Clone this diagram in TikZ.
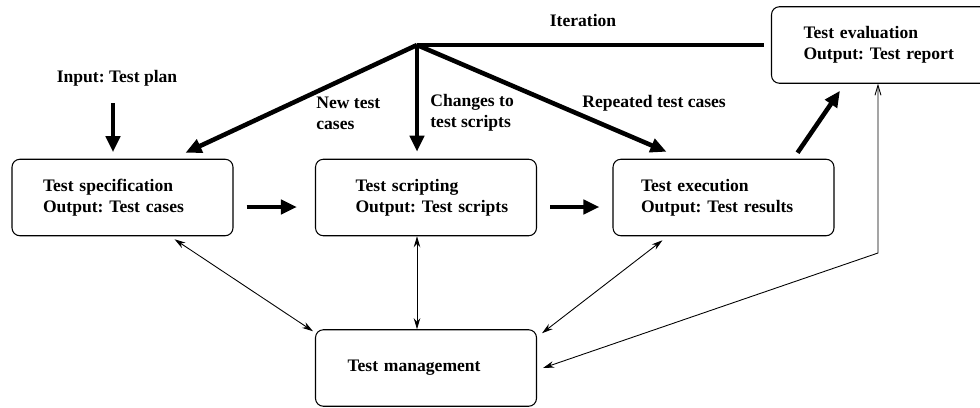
\documentclass[tikz,border=0pt]{standalone}
\usepackage{fontspec}
\setmainfont{Liberation Serif}
\usepackage{tikz}
\usetikzlibrary{arrows.meta, positioning, calc}
\frenchspacing
\tikzset{
  stagebox/.style={
    draw, rounded corners=4.5pt, line width=0.6pt, align=left,
    font=\bfseries, fill=white, text width=3.3cm, inner xsep=0.56cm,
    minimum height=1.53cm
  },
  flowlabel/.style={
    font=\bfseries, align=left, inner sep=0pt
  },
  bigarrow/.style={
    -{Triangle[length=3.2mm,width=2.8mm]}, line width=2.6pt
  },
  bigline/.style={
    line width=2.6pt
  },
  mgmtarrow/.style={
    {Stealth[length=2.2mm,width=1.3mm]}-{Stealth[length=2.2mm,width=1.3mm]},
    line width=0.5pt
  },
}

\begin{document}
\begin{tikzpicture}
  \useasboundingbox[fill=white] (0,0) rectangle (19.6,-8.14);

  % Stages
  \node[stagebox] (spec) at (2.45,-3.95)
    {\hspace*{0.06cm}Test specification\\\hspace*{0.06cm}Output: Test cases};
  \node[stagebox] (script) at (8.52,-3.95)
    {\hspace*{0.24cm}Test scripting\\\hspace*{0.24cm}Output: Test scripts};
  \node[stagebox] (exec) at (14.47,-3.95)
    {Test execution\\Output: Test results};
  \node[stagebox] (eval) at (17.64,-0.9)
    {\hspace*{0.08cm}Test evaluation\\\hspace*{0.08cm}Output: Test report};
  \node[stagebox] (mgmt) at (8.52,-7.36)
    {\hspace*{0.08cm}Test management};

  % Input
  \node[flowlabel] (input) at (2.34,-1.56) {Input: Test plan};
  \coordinate (inputtop) at (2.26,-2.06);
  \draw[bigarrow, shorten >=0.13cm] (inputtop) -- (inputtop |- spec.north);

  % Iteration
  \coordinate (hub) at (8.34,-0.9);
  \node[flowlabel] (iterlabel) at (11.66,-0.4) {Iteration};
  \draw[bigline] (hub) -- ([xshift=-0.14cm]eval.west);
  \draw[bigarrow] (hub) -- ([xshift=-0.96cm,yshift=0.12cm]spec.north east);
  \draw[bigarrow, shorten >=0.14cm] (hub) -- (hub |- script.north);
  \draw[bigarrow] (hub) -- ([xshift=1.08cm,yshift=0.14cm]exec.north west);
  \node[flowlabel, anchor=west] (newlabel) at (6.32,-2.26)
    {New test\\cases};
  \node[flowlabel, anchor=west] (changelabel) at (8.6,-2.25)
    {Changes to\\test scripts};
  \node[flowlabel, anchor=west] (replabel) at (11.64,-2.06)
    {Repeated test cases};

  % Flow between stages
  \draw[bigarrow] ([xshift=0.26cm,yshift=-0.19cm]spec.east)
    -- ([xshift=-0.36cm,yshift=-0.19cm]script.west);
  \draw[bigarrow] ([xshift=0.26cm,yshift=-0.19cm]script.east)
    -- ([xshift=-0.26cm,yshift=-0.19cm]exec.west);
  \draw[bigarrow] ([xshift=-0.74cm,yshift=0.12cm]exec.north east)
    -- ([xshift=1.38cm,yshift=-0.14cm]eval.south west);

  % Management links
  \draw[mgmtarrow] ([xshift=-1.18cm,yshift=-0.06cm]spec.south east)
    -- ([xshift=-0.04cm,yshift=-0.04cm]mgmt.north west);
  \draw[mgmtarrow] ([xshift=-0.18cm]script.south)
    -- ([xshift=-0.18cm]mgmt.north);
  \draw[mgmtarrow] ([xshift=1.0cm,yshift=-0.08cm]exec.south west)
    -- ([xshift=0.1cm,yshift=-0.08cm]mgmt.north east);
  \coordinate (evalbend) at (17.56,-5.06);
  \draw[{Straight Barb[length=2mm,width=1.2mm]}-{Stealth[length=2.2mm,width=1.3mm]},
    line width=0.5pt]
    ([xshift=2.14cm]eval.south west) -- (evalbend)
    -- ([xshift=0.12cm]mgmt.east);
\end{tikzpicture}
\end{document}
